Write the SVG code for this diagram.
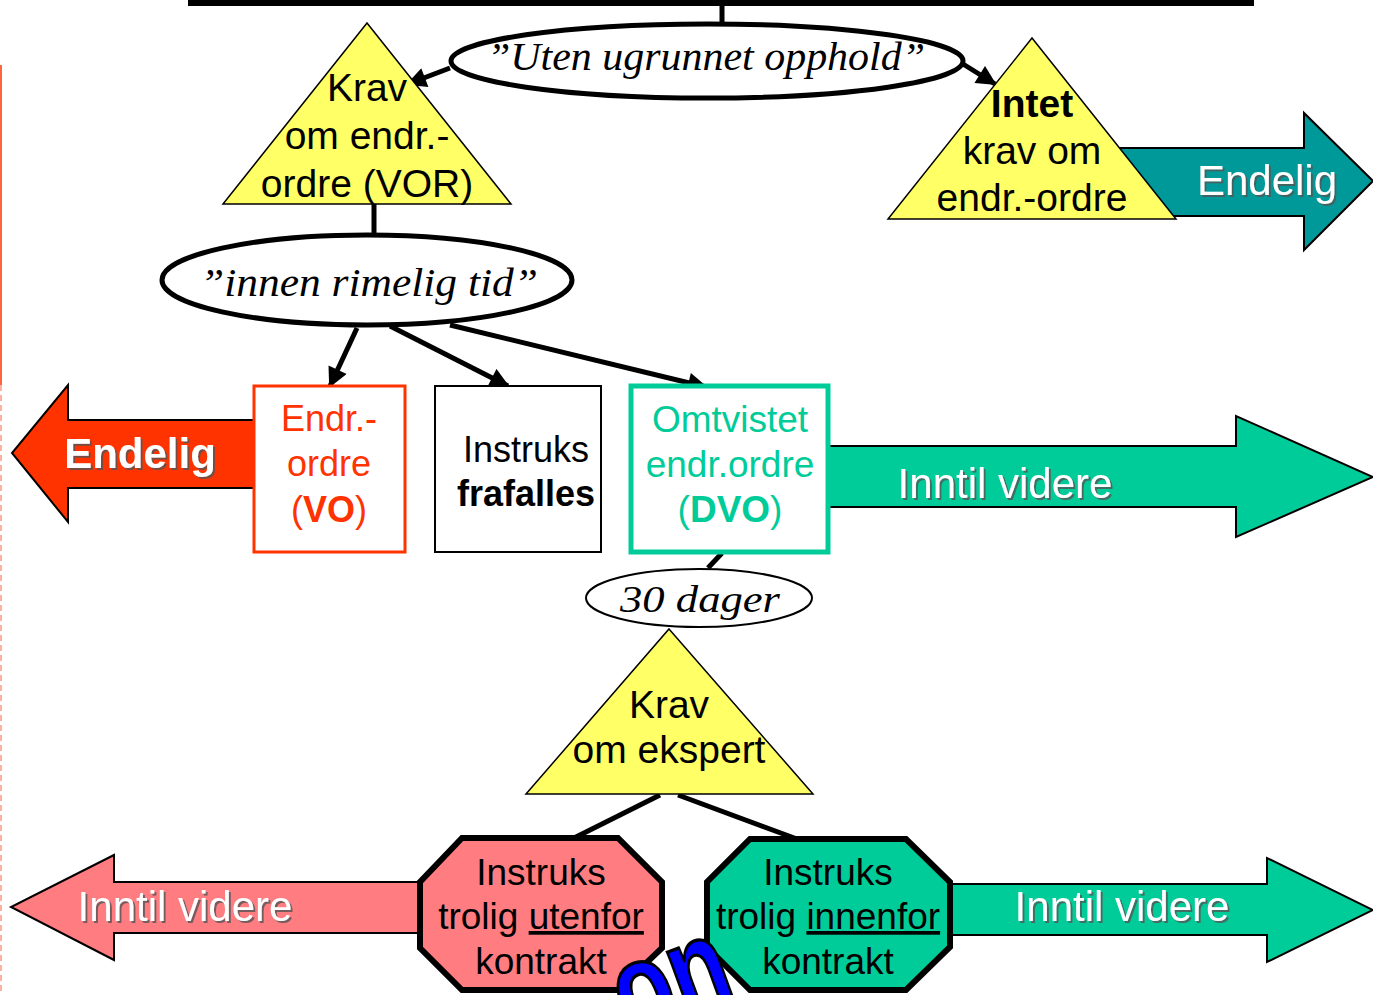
<svg xmlns="http://www.w3.org/2000/svg" width="1373" height="995" viewBox="0 0 1373 995">
<defs>
<style>
.sans{font-family:"Liberation Sans",Arial,sans-serif}
.hand{font-family:"Liberation Serif","DejaVu Serif",serif;font-style:italic}
.tri{fill:#FFFF66;stroke:#000;stroke-width:1.5}
.lbl{font-family:"Liberation Sans",Arial,sans-serif;font-size:39px;fill:#000;text-anchor:middle}
.wht{font-family:"Liberation Sans",Arial,sans-serif;font-size:42px;fill:#fff;filter:url(#sh)}
.conn{stroke:#000;stroke-width:5;fill:none}
.blk{stroke:#000;stroke-width:2}
</style>
<filter id="sh" x="-10%" y="-20%" width="130%" height="150%">
<feDropShadow dx="2" dy="2" stdDeviation="0.6" flood-color="#555" flood-opacity="0.8"/>
</filter>
<marker id="ah" viewBox="0 0 10 10" refX="9" refY="5" markerWidth="22" markerHeight="20" markerUnits="userSpaceOnUse" orient="auto">
<path d="M0,0 L10,5 L0,10 z" fill="#000"/>
</marker>
</defs>
<rect width="1373" height="995" fill="#fff"/>

<!-- left edge line -->
<line x1="1" y1="65" x2="1" y2="385" stroke="#FF6640" stroke-width="2"/>
<line x1="1" y1="385" x2="1" y2="995" stroke="#FFB0A0" stroke-width="2" stroke-dasharray="6,4"/>

<!-- top bar -->
<rect x="188" y="0" width="1066" height="6" fill="#000"/>

<!-- block arrows -->
<g id="arrow-endelig-teal">
<path class="blk" d="M1110,148 L1304,148 L1304,113 L1373,181 L1304,250 L1304,216 L1110,216 Z" fill="#009999"/>
<text class="wht" x="1267" y="195" text-anchor="middle">Endelig</text>
</g>
<g id="arrow-endelig-red">
<path class="blk" d="M254,420 L68,420 L68,385 L12,453 L68,522 L68,488 L254,488 Z" fill="#FF3300"/>
<text class="wht" x="140" y="468" text-anchor="middle" font-weight="bold">Endelig</text>
</g>
<g id="arrow-inntil-green">
<path class="blk" d="M828,446 L1236,446 L1236,416 L1373,477 L1236,537 L1236,507 L828,507 Z" fill="#00CC99"/>
<text class="wht" x="1005" y="498" text-anchor="middle">Inntil videre</text>
</g>
<g id="arrow-inntil-pink">
<path class="blk" d="M420,882 L114,882 L114,855 L11,907 L114,960 L114,933 L420,933 Z" fill="#FF7C80"/>
<text class="wht" x="185" y="921" text-anchor="middle">Inntil videre</text>
</g>
<g id="arrow-inntil-green2">
<path class="blk" d="M950,884 L1267,884 L1267,858 L1373,910 L1267,962 L1267,935 L950,935 Z" fill="#00CC99"/>
<text class="wht" x="1122" y="921" text-anchor="middle">Inntil videre</text>
</g>

<!-- connectors -->
<g id="connectors">
<line class="conn" x1="722" y1="6" x2="722" y2="24" stroke-width="4"/>
<line class="conn" x1="450" y1="68" x2="408" y2="84" marker-end="url(#ah)"/>
<line class="conn" x1="963" y1="64" x2="995" y2="84" marker-end="url(#ah)"/>
<line class="conn" x1="374" y1="204" x2="374" y2="236" stroke-width="4"/>
<line class="conn" x1="357" y1="328" x2="330" y2="386" marker-end="url(#ah)"/>
<line class="conn" x1="390" y1="326" x2="508" y2="386" marker-end="url(#ah)"/>
<line class="conn" x1="450" y1="325" x2="706" y2="387" marker-end="url(#ah)"/>
<line class="conn" x1="722" y1="553" x2="708" y2="568"/>
<line class="conn" x1="660" y1="795" x2="572" y2="839"/>
<line class="conn" x1="678" y1="795" x2="797" y2="839"/>
</g>

<!-- nodes -->
<g id="ellipse-uten">
<ellipse cx="707" cy="61" rx="256" ry="37" fill="#fff" stroke="#000" stroke-width="5"/>
<text class="hand" x="487" y="70" font-size="40" textLength="438" lengthAdjust="spacingAndGlyphs">”Uten ugrunnet opphold”</text>
</g>

<g id="tri-vor">
<polygon class="tri" points="367,23 511,204 223,204"/>
<text class="lbl" x="367" y="101">Krav</text>
<text class="lbl" x="367" y="149">om endr.-</text>
<text class="lbl" x="367" y="197">ordre (VOR)</text>
</g>

<g id="tri-intet">
<polygon class="tri" points="1032,38 1176,219 888,219"/>
<text class="lbl" x="1032" y="117" font-weight="bold">Intet</text>
<text class="lbl" x="1032" y="164">krav om</text>
<text class="lbl" x="1032" y="211">endr.-ordre</text>
</g>

<g id="ellipse-innen">
<ellipse cx="367" cy="280" rx="205" ry="45" fill="#fff" stroke="#000" stroke-width="5"/>
<text class="hand" x="200" y="296" font-size="40" textLength="338" lengthAdjust="spacingAndGlyphs">”innen rimelig tid”</text>
</g>

<g id="box-vo">
<rect x="254" y="386" width="151" height="166" fill="#fff" stroke="#FF3300" stroke-width="3"/>
<text class="sans" x="329" y="431" font-size="36" fill="#FF3300" text-anchor="middle">Endr.-</text>
<text class="sans" x="329" y="476" font-size="36" fill="#FF3300" text-anchor="middle">ordre</text>
<text class="sans" x="329" y="522" font-size="36" fill="#FF3300" text-anchor="middle">(<tspan font-weight="bold">VO</tspan>)</text>
</g>

<g id="box-instruks">
<rect x="435" y="386" width="166" height="166" fill="#fff" stroke="#000" stroke-width="2"/>
<text class="sans" x="526" y="462" font-size="36" text-anchor="middle">Instruks</text>
<text class="sans" x="526" y="506" font-size="36" font-weight="bold" text-anchor="middle">frafalles</text>
</g>

<g id="box-dvo">
<rect x="631" y="386" width="197" height="166" fill="#fff" stroke="#00CC99" stroke-width="5"/>
<text class="sans" x="730" y="432" font-size="37" fill="#00CC99" text-anchor="middle">Omtvistet</text>
<text class="sans" x="730" y="477" font-size="37" fill="#00CC99" text-anchor="middle">endr.ordre</text>
<text class="sans" x="730" y="522" font-size="37" fill="#00CC99" text-anchor="middle">(<tspan font-weight="bold">DVO</tspan>)</text>
</g>

<g id="ellipse-30">
<ellipse cx="699" cy="598" rx="113" ry="29" fill="#fff" stroke="#000" stroke-width="2"/>
<text class="hand" x="620" y="612" font-size="38" textLength="160" lengthAdjust="spacingAndGlyphs">30 dager</text>
</g>

<g id="tri-ekspert">
<polygon class="tri" points="669,629 813,794 526,794"/>
<text class="lbl" x="669" y="718" font-size="37">Krav</text>
<text class="lbl" x="669" y="763" font-size="37">om ekspert</text>
</g>

<g id="oct-utenfor">
<polygon points="462,838 618,838 662,882 662,948 618,990 462,990 420,948 420,882" fill="#FF7C80" stroke="#000" stroke-width="6"/>
<text class="sans" x="541" y="885" font-size="37" text-anchor="middle">Instruks</text>
<text class="sans" x="541" y="929" font-size="37" text-anchor="middle">trolig <tspan text-decoration="underline">utenfor</tspan></text>
<text class="sans" x="541" y="974" font-size="37" text-anchor="middle">kontrakt</text>
</g>

<g id="oct-innenfor">
<polygon points="750,839 906,839 950,882 950,947 906,990 750,990 707,947 707,882" fill="#00CC99" stroke="#000" stroke-width="6"/>
<text class="sans" x="828" y="885" font-size="37" text-anchor="middle">Instruks</text>
<text class="sans" x="828" y="929" font-size="37" text-anchor="middle">trolig <tspan text-decoration="underline">innenfor</tspan></text>
<text class="sans" x="828" y="974" font-size="37" text-anchor="middle">kontrakt</text>
</g>

<!-- blue wordart fragment -->
<text class="sans" x="0" y="0" font-size="120" font-weight="bold" fill="#0000FF" stroke="#000" stroke-width="3" transform="translate(630,1040) rotate(-20) scale(0.8,1.1)">on</text>
</svg>
